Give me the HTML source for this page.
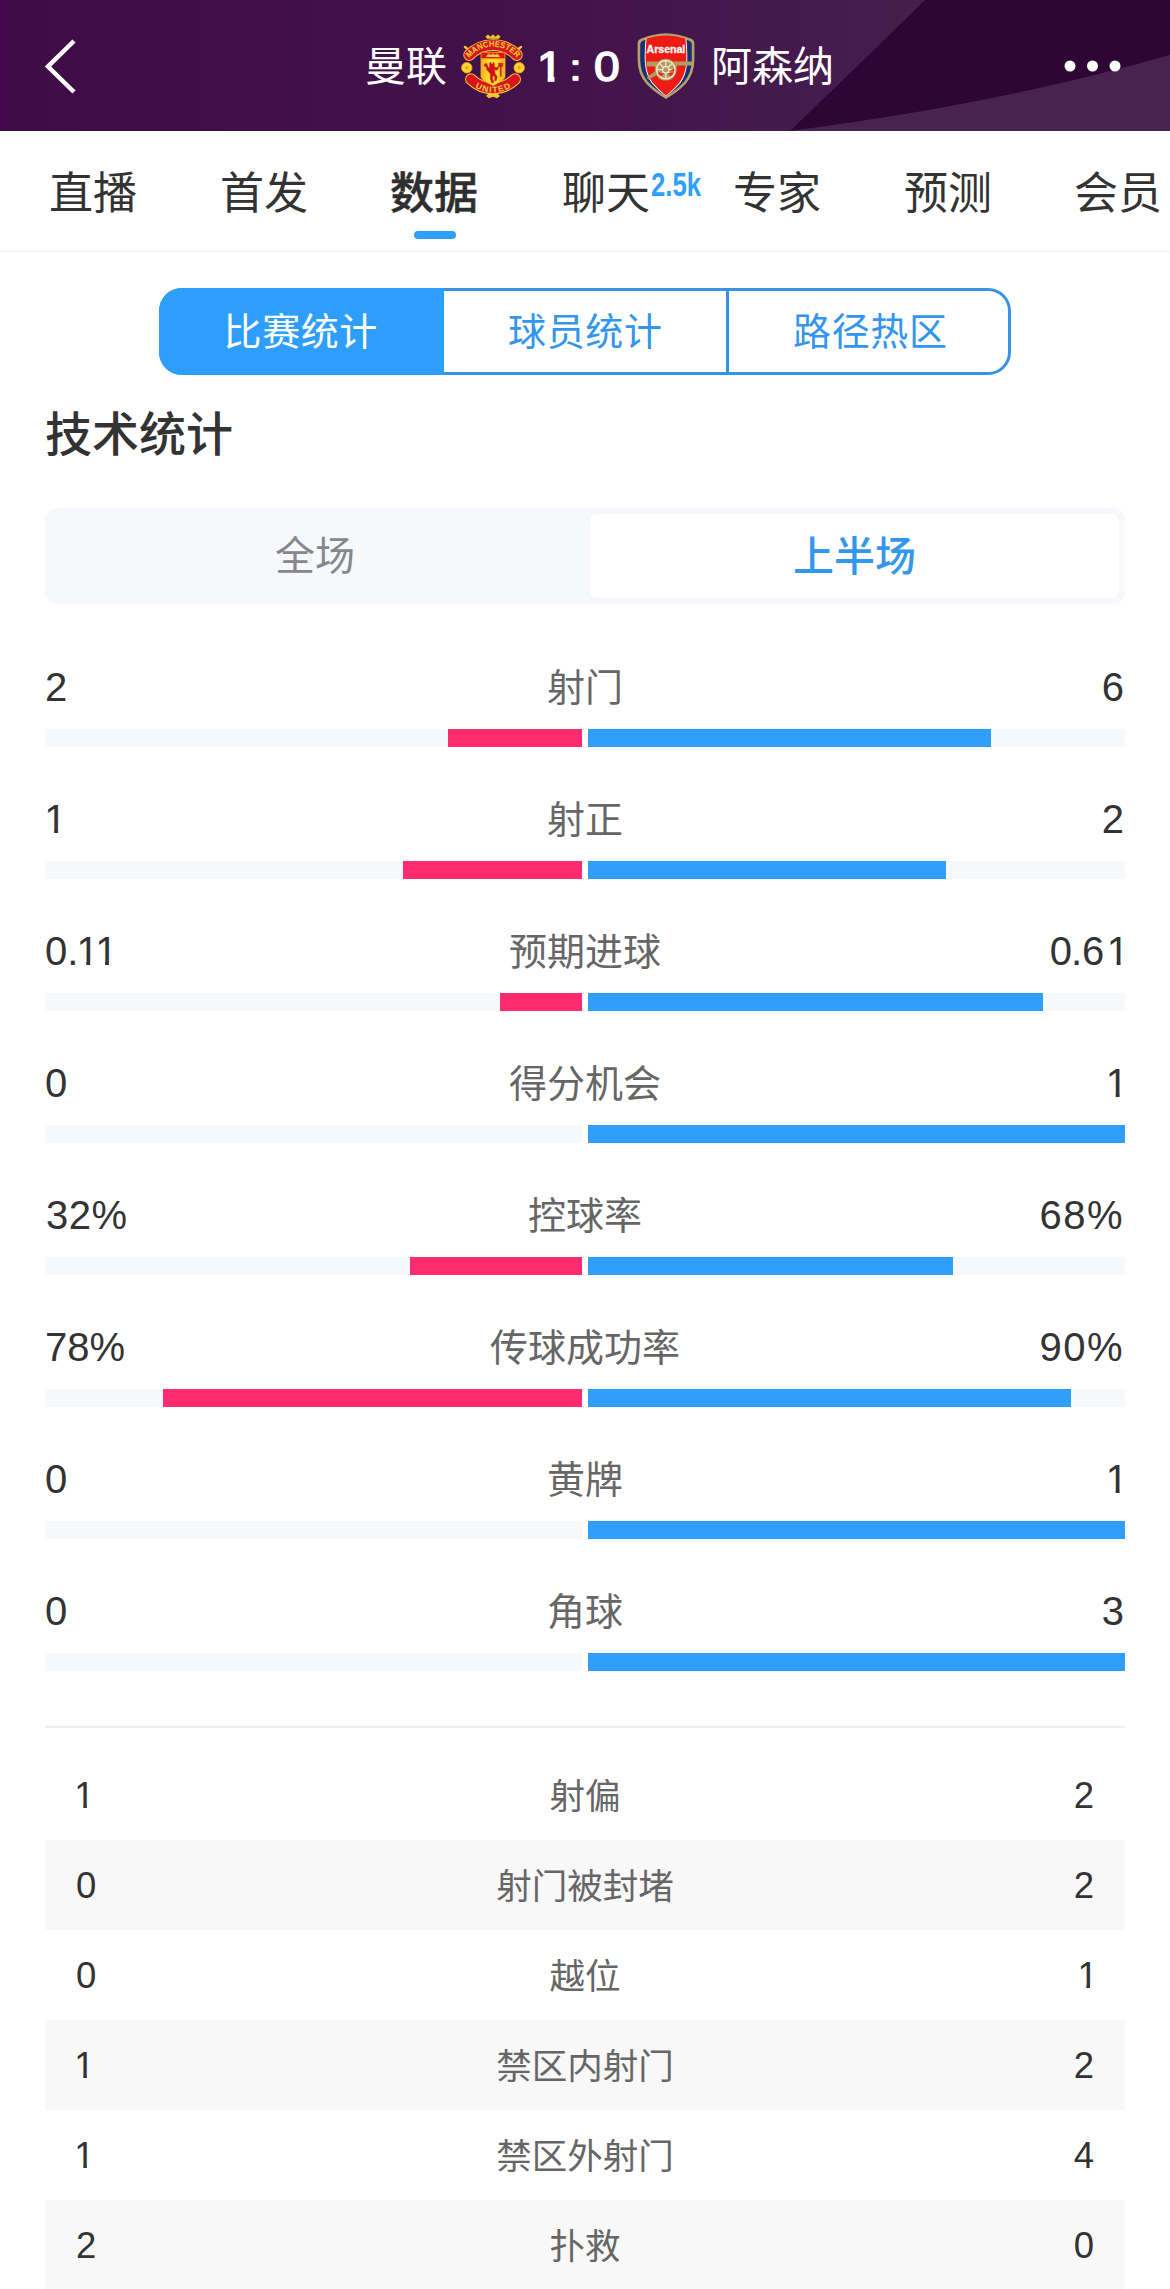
<!DOCTYPE html>
<html lang="zh-CN">
<head>
<meta charset="utf-8">
<title>曼联 1:0 阿森纳 - 技术统计</title>
<style>
html,body{margin:0;padding:0;}
body{width:1170px;height:2289px;position:relative;overflow:hidden;background:#fff;
  font-family:"Liberation Sans","Noto Sans CJK SC",sans-serif;color:#333;}
.abs{position:absolute;}
.t{position:absolute;white-space:nowrap;line-height:1;}
/* header */
#hdr{position:absolute;left:0;top:0;width:1170px;height:131px;background:#400b48;overflow:hidden;}
#hdr svg.bg{position:absolute;left:0;top:0;}
.team{color:#fff;font-size:41px;top:47px;font-weight:400;}
.score{color:#fff;font-size:42px;top:46px;font-weight:400;-webkit-text-stroke:1.5px #fff;transform-origin:0 50%;transform:scaleX(1.1);}
/* tabs */
#tabs{position:absolute;left:0;top:131px;width:1170px;height:120px;background:#fff;border-bottom:1px solid #ebebeb;box-sizing:content-box;}
.tab{position:absolute;top:41px;font-size:44px;line-height:44px;color:#333;white-space:nowrap;}
.tab.on{font-weight:500;color:#2e2e2e;-webkit-text-stroke:0.45px #2e2e2e;}
/* segmented */
#seg{position:absolute;left:159px;top:288px;width:852px;height:87px;box-sizing:border-box;border:3px solid #3792e6;border-radius:23px;background:#fff;}
#seg div{position:absolute;top:-3px;height:87px;line-height:89px;text-align:center;font-size:38px;color:#3396ee;letter-spacing:0.6px;text-indent:0.6px;}
/* toggle */
#tog{position:absolute;left:45px;top:508px;width:1080px;height:96px;background:#f7f8fb;border-radius:12px;}
/* stat rows */
.row{position:absolute;left:0;width:1170px;height:132px;}
.row .l,.row .r,.row .c{position:absolute;top:-2px;font-size:40px;line-height:46px;white-space:nowrap;}
.row .l{left:45px;color:#333;}
.row .r{right:46px;color:#333;text-align:right;}
.row .c{left:0;width:1170px;text-align:center;color:#666;font-size:38px;top:-1px;}
.row .tl,.row .tr{position:absolute;top:63px;height:18px;background:#f7f8fa;}
.row .tl{left:45px;width:537px;}
.row .tr{left:588px;width:537px;}
.row .bl{position:absolute;right:0;top:0;height:18px;background:#fd2c70;}
.row .br{position:absolute;left:0;top:0;height:18px;background:#2f9ffb;}
.one{display:inline-block;line-height:normal;clip-path:polygon(-0.1em -0.1em,0.7em -0.1em,0.7em 0.825em,0.345em 0.825em,0.345em 1.2em,0.247em 1.2em,0.247em 0.825em,-0.1em 0.825em);}
/* table */
.tr2{position:absolute;left:45px;width:1080px;height:90px;}
.tr2.g{background:#f8f8f8;}
.tr2>span{position:absolute;top:0;line-height:91px;font-size:36.5px;white-space:nowrap;}
.tr2 .l{left:31px;color:#333;}
.tr2 .r{right:31px;color:#333;}
.tr2 .c{left:0;width:1080px;text-align:center;color:#666;font-size:35.5px;line-height:94px;}
</style>
</head>
<body>
<!-- HEADER -->
<div id="hdr">
<svg class="bg" width="1170" height="131" viewBox="0 0 1170 131">
<defs><linearGradient id="hg" x1="0" y1="0" x2="1" y2="0"><stop offset="0" stop-color="#400b48"/><stop offset="0.45" stop-color="#42124a"/><stop offset="0.8" stop-color="#461f4e"/></linearGradient></defs>
<rect width="1170" height="131" fill="url(#hg)"/>
<path d="M925,0 Q862,62 790,131 Q1000,104 1170,55 L1170,0 Z" fill="#2d0636"/>
<path d="M790,131 Q1000,104 1170,55 L1170,131 Z" fill="#47234f"/>
</svg>
<svg class="abs" style="left:40px;top:34px" width="44" height="64" viewBox="0 0 44 64"><path d="M34,7 L8,32.5 L34,58" fill="none" stroke="#fff" stroke-width="4.5" stroke-linecap="butt" stroke-linejoin="miter"/></svg>
<div class="t team" style="left:365px;">曼联</div>
<div class="t score" style="left:537px;clip-path:polygon(-5px -5px,40px -5px,40px 30.5px,15.9px 30.5px,15.9px 50px,9.7px 50px,9.7px 30.5px,-5px 30.5px);">1</div><div class="t score" style="left:569px;top:45px;transform-origin:0 35.5px;transform:scale(1.1,0.84);clip-path:path('M2.7,14.1 a3.4,3.9 0 1,0 6.8,0 a3.4,3.9 0 1,0 -6.8,0 Z M2.7,33.1 a3.4,3.9 0 1,0 6.8,0 a3.4,3.9 0 1,0 -6.8,0 Z');">:</div><div class="t score" style="left:594px;">0</div>
<div class="t team" style="left:711px;">阿森纳</div>
<svg class="abs" style="left:1060px;top:56px" width="64" height="20" viewBox="0 0 64 20"><circle cx="10" cy="10" r="5.5" fill="#fff"/><circle cx="32.5" cy="10" r="5.5" fill="#fff"/><circle cx="55" cy="10" r="5.5" fill="#fff"/></svg>
<svg class="abs" style="left:453px;top:26px" width="80" height="80" viewBox="0 0 80 80">
<defs>
<path id="muTop" d="M11.53,40.64 A30.3,30.3 0 0 1 68.47,40.64"/>
<path id="muBot" d="M10.12,49.15 A34.5,34.5 0 0 0 69.88,49.15"/>
<linearGradient id="muY" x1="0" y1="0" x2="1" y2="0"><stop offset="0" stop-color="#f9ab1c"/><stop offset="0.35" stop-color="#ffe02c"/><stop offset="0.65" stop-color="#ffe02c"/><stop offset="1" stop-color="#f9ab1c"/></linearGradient>
</defs>
<path d="M32.500,10.500 L35,8.600 L37.500,10.800 L40,8.200 L42.500,10.800 L45,8.600 L47.500,10.500 L46,12.800 L34,12.800 Z" fill="#f3c12c"/>
<path d="M33,70 L36,72.2 L40,70.8 L44,72.2 L47,70 L45,68 L35,68 Z" fill="#f7c52a"/>
<path d="M12,21 L16.5,24.5 M68,21 L63.500,24.5" stroke="#f7c52a" stroke-width="2.4" stroke-linecap="round"/>
<path d="M16.2,29 A33.5,33.5 0 0 1 63.800,29" fill="none" stroke="#f9cf3a" stroke-width="11.8" stroke-linecap="round"/>
<path d="M16.2,29 A33.5,33.5 0 0 1 63.800,29" fill="none" stroke="#d8141c" stroke-width="10" stroke-linecap="round"/>
<path d="M18,53.2 A31.3,31.3 0 0 0 62,53.2" fill="none" stroke="#f9cf3a" stroke-width="11.8" stroke-linecap="round"/>
<path d="M18,53.2 A31.3,31.3 0 0 0 62,53.2" fill="none" stroke="#d8141c" stroke-width="10" stroke-linecap="round"/>
<circle cx="13.800" cy="41.7" r="5.2" fill="#fbd231" stroke="#f3a51d" stroke-width="0.9"/>
<circle cx="66.2" cy="41.7" r="5.2" fill="#fbd231" stroke="#f3a51d" stroke-width="0.9"/>
<circle cx="13.800" cy="41.7" r="1.6" fill="#f0a01c"/><circle cx="66.2" cy="41.7" r="1.6" fill="#f0a01c"/>
<path d="M28,26.3 H52 V50.5 Q52,54 40,59.600 Q28,54 28,50.5 Z" fill="url(#muY)" stroke="#f6b223" stroke-width="0.8"/>
<path d="M28.400,26.7 H51.600 V32.2 H28.400 Z" fill="#d8141c"/>
<path d="M33,31 L34.5,28.6 H45.5 L47,31 Z" fill="#fbd231"/>
<path d="M36,28.6 V27.400 M40,28.6 V27.200 M44,28.6 V27.400" stroke="#fbd231" stroke-width="1"/>
<rect x="28.4" y="32.2" width="23.2" height="1" fill="#f08a1a"/>
<g fill="#cf1218" stroke="#cf1218" stroke-width="0.55" stroke-linejoin="round">
<path d="M31,40 Q31.500,37 33.600,37.600 Q34.800,39.500 35.200,42 L36.800,40.800 L36.400,37.600 L37.600,36 L38.200,38 L39.600,38 L40.400,36.200 L41.400,38 L41.200,40.600 L43.400,42 L45,40.400 L45.800,41.400 L43.800,44.200 L41.600,43.800 L42,47.400 L44.200,50.800 L43.200,54.600 L41.600,54.600 L42,51.400 L40,49 L39.400,52.400 L40.800,56.400 L39,57 L37.200,52.600 L37.400,48 L35.400,45.400 Q33.500,44.500 33.400,41.200 Q32.500,39.500 31,40 Z"/>
<path d="M45.700,37 H46.600 V39.400 H47.300 V37 H48.200 V39.400 H48.900 V37 H49.800 V40.400 H48.200 V50.500 H47.300 V40.400 H45.700 Z"/>
</g>
<text font-family="'Liberation Sans',sans-serif" font-weight="700" font-size="8.4" fill="#fbd536" text-anchor="middle"><textPath href="#muTop" startOffset="50%" textLength="54" lengthAdjust="spacingAndGlyphs">MANCHESTER</textPath></text>
<text font-family="'Liberation Sans',sans-serif" font-weight="700" font-size="8.4" fill="#fbd536" text-anchor="middle"><textPath href="#muBot" startOffset="50%" textLength="37.5" lengthAdjust="spacing">UNITED</textPath></text>
</svg>
<svg class="abs" style="left:626px;top:26px" width="80" height="80" viewBox="0 0 80 80">
<path d="M15.5,12.6 Q28,7.4 40,7.2 Q52,7.4 64.500,12.6 Q68.500,14 68.400,18 L68.400,34 Q68.200,48 60,57.500 Q52,66 40,72.9 Q28,66 20,57.500 Q11.800,48 11.600,34 L11.600,18 Q11.500,14 15.500,12.600 Z" fill="#b8a06e"/>
<path d="M17.4,14.6 Q28,9.800 40,9.600 Q52,9.800 62.600,14.600 Q65.900,15.800 65.800,18.800 L65.800,34 Q65.600,46.800 58.200,55.700 Q50.800,63.700 40,70.200 Q29.200,63.700 21.800,55.700 Q14.400,46.800 14.200,34 L14.200,18.800 Q14.100,15.800 17.400,14.600 Z" fill="#16326f"/>
<path d="M19.6,12.800 Q30,9.800 40,9.600 Q50,9.800 60.400,12.800 Q61.600,26 61.200,36 Q60.300,49 54.500,56.800 Q48,64.800 40,70.600 Q32,64.800 25.500,56.800 Q19.700,49 18.800,36 Q18.400,26 19.600,12.800 Z" fill="#fff"/>
<path d="M20.5,12.600 Q30,9.800 40,9.600 Q50,9.800 59.500,12.600 Q60.700,26 60.300,36 Q59.400,48.600 53.700,56.300 Q47.500,64 40,69.700 Q32.500,64 26.300,56.300 Q20.600,48.600 19.700,36 Q19.300,26 20.500,12.600 Z" fill="#ee1b14"/>
<g fill="#b39a5e">
<path d="M20.600,35.600 H66.600 V39.600 H52 L50,41.400 H30 L28.500,40.400 H20.600 Z"/>
<path d="M31.500,43.500 L34,47.500 L22.500,53.600 L20.800,51.200 Z"/>
<circle cx="39.800" cy="43.700" r="10.9"/>
</g>
<circle cx="39.800" cy="43.700" r="9.200" fill="none" stroke="#f3ead2" stroke-width="1.4"/>
<g stroke="#f3ead2" stroke-width="1.25" fill="none">
<path d="M39.800,34.400 V53 M30.500,43.700 H49.100 M33.200,37.100 L46.400,50.300 M46.400,37.100 L33.200,50.300"/>
<circle cx="39.800" cy="43.700" r="3.200" fill="#b39a5e"/>
</g>
<path d="M41.500,47.300 L44.600,50.300 Q47,49 48,46.300 Z M38.100,47.300 L35,50.300 Q32.600,49 31.600,46.300 Z M43.300,45.300 L48.300,45.300 Q48.500,43.500 48.100,42.600 Z" fill="#e8261a"/>
<text x="39.900" y="26.700" font-family="'Liberation Sans',sans-serif" font-weight="700" font-size="11.4" fill="#fff" stroke="#fff" stroke-width="0.3" text-anchor="middle" textLength="38.8" lengthAdjust="spacingAndGlyphs">Arsenal</text>
</svg>
</div>
<!-- TABS -->
<div id="tabs">
<div class="tab" style="left:49px">直播</div>
<div class="tab" style="left:220px">首发</div>
<div class="tab on" style="left:390px">数据</div>
<div class="tab" style="left:562px">聊天</div>
<div class="t" id="badge" style="left:651px;top:37.5px;font-size:32.800px;font-weight:700;color:#2f9ffa;transform-origin:0 0;transform:scaleX(0.785);">2.5k</div>
<div class="tab" style="left:733px">专家</div>
<div class="tab" style="left:904px">预测</div>
<div class="tab" style="left:1074px">会员</div>
<div class="abs" style="left:414px;top:100px;width:42px;height:8px;border-radius:4px;background:#2f9ffa"></div>
</div>
<!-- SEGMENTED -->
<div id="seg">
<div style="left:-3px;width:285px;background:#2e9efc;color:#fff;border-radius:23px 0 0 23px;text-indent:-1.5px;">比赛统计</div>
<div style="left:282px;width:282px;">球员统计</div>
<div style="left:567px;width:282px;">路径热区</div>
<i class="abs" style="left:564px;top:0;width:3px;height:81px;background:#3792e6"></i>
</div>
<!-- TITLE -->
<div class="t" id="title" style="left:45px;top:411px;font-size:47px;font-weight:500;color:#333;">技术统计</div>
<!-- TOGGLE -->
<div id="tog">
<div class="abs" style="left:545px;top:6px;width:529px;height:84px;background:#fff;border-radius:6px;box-shadow:0 0 3px rgba(0,0,0,0.03);"></div>
<div class="t" style="left:0;width:540px;text-align:center;top:28px;font-size:40px;color:#85878c;">全场</div>
<div class="t" style="left:545px;width:529px;text-align:center;top:29px;font-size:41px;color:#3397ee;font-weight:500;">上半场</div>
</div>
<!-- ROWS -->
<div id="rows">
<div class="row" style="top:666px"><span class="l">2</span><span class="c">射门</span><span class="r">6</span><div class="tl"><div class="bl" style="width:134px"></div></div><div class="tr"><div class="br" style="width:403px"></div></div></div>
<div class="row" style="top:798px"><span class="l" style="left:44.3px"><span class="one">1</span></span><span class="c">射正</span><span class="r">2</span><div class="tl"><div class="bl" style="width:179px"></div></div><div class="tr"><div class="br" style="width:358px"></div></div></div>
<div class="row" style="top:930px"><span class="l">0<span style="letter-spacing:-2px">.</span><span style="letter-spacing:-3.5px"><span class="one">1</span></span><span class="one">1</span></span><span class="c">预期进球</span><span class="r" style="right:41px"><span style="letter-spacing:-1px">0</span>.<span style="letter-spacing:2.5px">6</span><span class="one">1</span></span><div class="tl"><div class="bl" style="width:82px"></div></div><div class="tr"><div class="br" style="width:455px"></div></div></div>
<div class="row" style="top:1062px"><span class="l">0</span><span class="c">得分机会</span><span class="r" style="right:42px"><span class="one">1</span></span><div class="tl"><div class="bl" style="width:0px"></div></div><div class="tr"><div class="br" style="width:537px"></div></div></div>
<div class="row" style="top:1194px"><span class="l" style="left:46px;letter-spacing:0.5px">32%</span><span class="c">控球率</span><span class="r" style="letter-spacing:1.5px">68%</span><div class="tl"><div class="bl" style="width:172px"></div></div><div class="tr"><div class="br" style="width:365px"></div></div></div>
<div class="row" style="top:1326px"><span class="l">78%</span><span class="c">传球成功率</span><span class="r" style="letter-spacing:1.5px">90%</span><div class="tl"><div class="bl" style="width:419px"></div></div><div class="tr"><div class="br" style="width:483px"></div></div></div>
<div class="row" style="top:1458px"><span class="l">0</span><span class="c">黄牌</span><span class="r" style="right:42px"><span class="one">1</span></span><div class="tl"><div class="bl" style="width:0px"></div></div><div class="tr"><div class="br" style="width:537px"></div></div></div>
<div class="row" style="top:1590px"><span class="l">0</span><span class="c">角球</span><span class="r">3</span><div class="tl"><div class="bl" style="width:0px"></div></div><div class="tr"><div class="br" style="width:537px"></div></div></div>
<div class="abs" style="left:45px;top:1726px;width:1080px;height:2px;background:#efefef"></div>
</div>
<!-- TABLE -->
<div id="tbl">
<div class="tr2" style="top:1750px"><span class="l" style="left:29.3px"><span class="one">1</span></span><span class="c">射偏</span><span class="r">2</span></div>
<div class="tr2 g" style="top:1840px"><span class="l">0</span><span class="c">射门被封堵</span><span class="r">2</span></div>
<div class="tr2" style="top:1930px"><span class="l">0</span><span class="c">越位</span><span class="r" style="right:27.3px"><span class="one">1</span></span></div>
<div class="tr2 g" style="top:2020px"><span class="l" style="left:29.3px"><span class="one">1</span></span><span class="c">禁区内射门</span><span class="r">2</span></div>
<div class="tr2" style="top:2110px"><span class="l" style="left:29.3px"><span class="one">1</span></span><span class="c">禁区外射门</span><span class="r">4</span></div>
<div class="tr2 g" style="top:2200px"><span class="l">2</span><span class="c">扑救</span><span class="r">0</span></div>
</div>
</body>
</html>
